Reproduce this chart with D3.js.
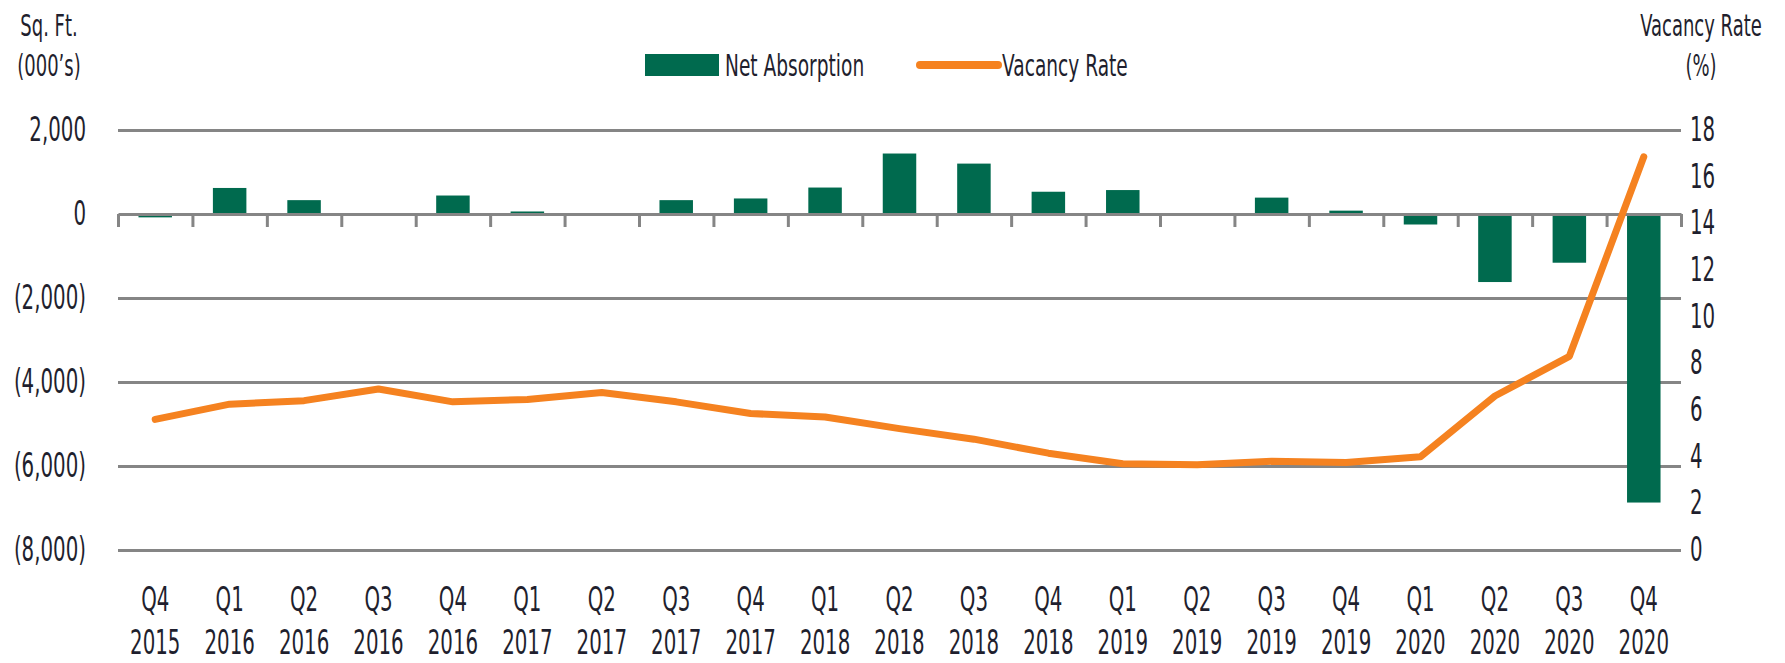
<!DOCTYPE html>
<html>
<head>
<meta charset="utf-8">
<script src="https://cdn.jsdelivr.net/npm/d3@7"></script>
<style>
    body { margin: 0; background: #fff; }
    svg text { font-family: "DejaVu Sans", sans-serif; fill: #1f1f2e; }
</style>
</head>
<body>
<svg id="chart" width="1785" height="663"></svg>
<script>
// data
var quarters = ["Q4","Q1","Q2","Q3","Q4","Q1","Q2","Q3","Q4","Q1","Q2","Q3","Q4","Q1","Q2","Q3","Q4","Q1","Q2","Q3","Q4"];
var years = ["2015","2016","2016","2016","2016","2017","2017","2017","2017","2018","2018","2018","2018","2019","2019","2019","2019","2020","2020","2020","2020"];
var netAbsorption = [-80, 620, 330, 0, 440, 60, -40, 330, 370, 630, 1440, 1200, 530, 570, 0, 390, 80, -250, -1620, -1160, -6870];
var vacancyRate = [5.6, 6.25, 6.4, 6.9, 6.35, 6.45, 6.75, 6.35, 5.85, 5.7, 5.2, 4.75, 4.15, 3.7, 3.65, 3.8, 3.75, 4.0, 6.6, 8.3, 16.85];
var leftTicks = [2000, 0, -2000, -4000, -6000, -8000];
var rightTicks = [18, 16, 14, 12, 10, 8, 6, 4, 2, 0];

var green = "#006a4e", orange = "#f58220", grey = "#858585";
var squeezeX = 0.6; // the original font is a narrow condensed face

var svg = d3.select("#chart");
var plotLeft = 118, plotRight = 1681, plotTop = 130, plotBottom = 550;

var keys = quarters.map(function(q, i){ return i; });
var x = d3.scaleBand().domain(keys).range([plotLeft, plotRight]);
var xEdge = d3.scaleLinear().domain([0, keys.length]).range([plotLeft, plotRight]);
var yL = d3.scaleLinear().domain([-8000, 2000]).range([plotBottom, plotTop]);
var yR = d3.scaleLinear().domain([0, 18]).range([plotBottom, plotTop]);

function fmtLeft(v){
    var s = d3.format(",")(Math.abs(v));
    return v < 0 ? "(" + s + ")" : s;
}

// text placed at (px,py) and squeezed horizontally
function label(px, py, str, size, anchor){
    return svg.append("text")
        .attr("transform", "translate(" + px + "," + py + ") scale(" + squeezeX + ",1)")
        .attr("text-anchor", anchor || "start")
        .style("font-size", size + "px")
        .text(str);
}

// gridlines
var grid = svg.append("g")
    .attr("transform", "translate(" + plotLeft + ",0)")
    .call(d3.axisLeft(yL).tickValues(leftTicks.filter(function(d){ return d !== 0; })).tickSize(-(plotRight - plotLeft)).tickFormat(""));
grid.select(".domain").remove();
grid.selectAll("line").attr("stroke", grey).attr("stroke-width", 3);

// left axis labels
var axL = svg.append("g")
    .attr("transform", "translate(86,0)")
    .call(d3.axisLeft(yL).tickValues(leftTicks).tickSize(0).tickPadding(0).tickFormat(fmtLeft));
axL.select(".domain").remove();
axL.selectAll("text").style("font-size", "33px").attr("fill", "#1f1f2e")
    .attr("transform", "scale(" + squeezeX + ",1)");

// right axis labels
var axR = svg.append("g")
    .attr("transform", "translate(1690,0)")
    .call(d3.axisRight(yR).tickValues(rightTicks).tickSize(0).tickPadding(0));
axR.select(".domain").remove();
axR.selectAll("text").style("font-size", "33px").attr("fill", "#1f1f2e")
    .attr("transform", "scale(" + squeezeX + ",1)");

// bars
var bw = x.bandwidth() * 0.45;
svg.append("g").selectAll("rect")
    .data(netAbsorption)
    .enter().append("rect")
    .attr("x", function(d, i){ return x(i) + (x.bandwidth() - bw) / 2; })
    .attr("y", function(d){ return yL(Math.max(0, d)); })
    .attr("width", bw)
    .attr("height", function(d){ return Math.abs(yL(d) - yL(0)); })
    .attr("fill", green);

// zero axis with tick marks at category edges
var axX = svg.append("g")
    .attr("transform", "translate(0," + yL(0) + ")")
    .call(d3.axisBottom(xEdge).tickValues(d3.range(keys.length + 1)).tickSize(13).tickSizeOuter(0).tickFormat(""));
axX.select(".domain").attr("stroke", grey).attr("stroke-width", 3);
axX.selectAll("line").attr("stroke", grey).attr("stroke-width", 3);

// category labels
var cat = svg.append("g").selectAll("g")
    .data(keys)
    .enter().append("g")
    .attr("transform", function(i){ return "translate(" + (x(i) + x.bandwidth() / 2) + ",611) scale(" + squeezeX + ",1)"; });
cat.append("text").attr("text-anchor", "middle").style("font-size", "33px")
    .text(function(i){ return quarters[i]; });
cat.append("text").attr("text-anchor", "middle").style("font-size", "33px").attr("y", 43)
    .text(function(i){ return years[i]; });

// vacancy line
var line = d3.line()
    .x(function(d, i){ return x(i) + x.bandwidth() / 2; })
    .y(function(d){ return yR(d); });
svg.append("path")
    .datum(vacancyRate)
    .attr("d", line)
    .attr("fill", "none")
    .attr("stroke", orange)
    .attr("stroke-width", 7)
    .attr("stroke-linejoin", "round")
    .attr("stroke-linecap", "round");

// axis titles
label(49, 36, "Sq. Ft.", 30, "middle");
label(49, 76, "(000\u2019s)", 30, "middle");
label(1701, 36, "Vacancy Rate", 30, "middle");
label(1701, 76, "(%)", 30, "middle");

// legend
svg.append("rect").attr("x", 645).attr("y", 54).attr("width", 74).attr("height", 22).attr("fill", green);
label(725, 76, "Net Absorption", 31);
svg.append("line").attr("x1", 920).attr("x2", 998).attr("y1", 65).attr("y2", 65)
    .attr("stroke", orange).attr("stroke-width", 8).attr("stroke-linecap", "round");
label(1002, 76, "Vacancy Rate", 31);
</script>
</body>
</html>
